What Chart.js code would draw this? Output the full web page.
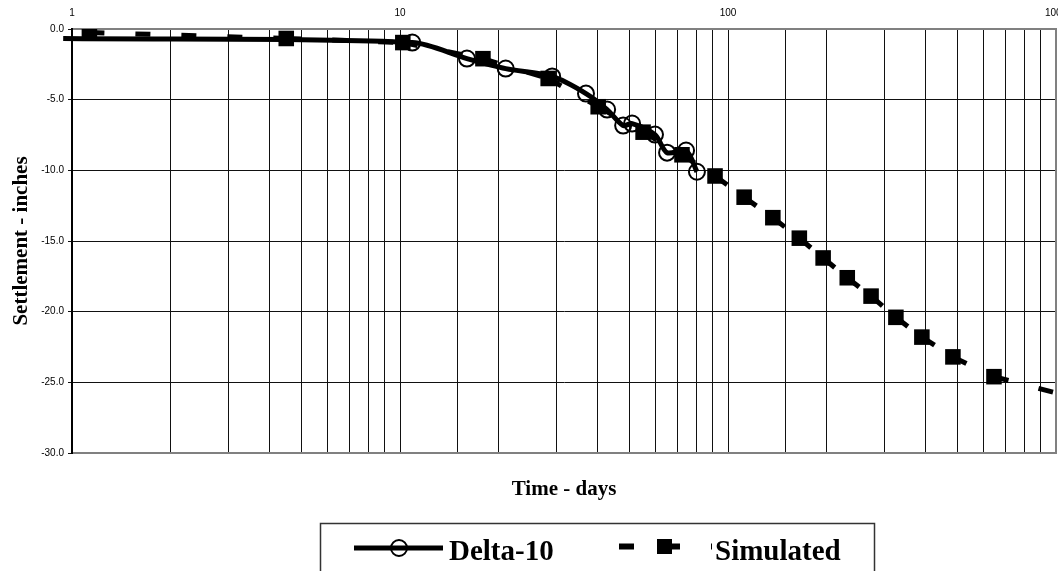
<!DOCTYPE html>
<html>
<head>
<meta charset="utf-8">
<script src="https://cdn.jsdelivr.net/npm/chart.js@4"></script>
<style>
  body { margin: 0; background: #fff; }
  canvas { display: block; }
</style>
</head>
<body>
<canvas id="settleChart" width="1058" height="571"></canvas>
<script>
// values (time in days, settlement in inches)
var delta10Days = [0.94, 10.9, 16.0, 21.0, 29.1, 36.9, 42.8, 47.9, 51.0, 59.9, 65.2, 74.5, 80.4];
var delta10Settle = [-0.68, -0.96, -2.09, -2.8, -3.36, -4.57, -5.7, -6.83, -6.69, -7.47, -8.75, -8.6, -10.1];

var simDays = [1.13, 4.5, 10.2, 17.9, 28.3, 40.2, 55.1, 72.4, 91.3, 112, 137, 165, 195, 231, 273, 325, 390, 485, 647, 1100];
var simSettle = [-0.25, -0.67, -0.96, -2.1, -3.5, -5.5, -7.3, -8.9, -10.4, -11.9, -13.35, -14.8, -16.2, -17.6, -18.9, -20.4, -21.8, -23.2, -24.6, -26.0];

var xTickLabels = [1, 10, 100, 1000];
var yTickValues = [0, -5, -10, -15, -20, -25, -30];

var serif = "'Liberation Serif', 'Times New Roman', serif";
var sans = "'Liberation Sans', Arial, sans-serif";

function toPoints(xs, ys) {
  return xs.map(function (x, i) { return { x: x, y: ys[i] }; });
}

// legend drawn in a box below the plot, like the spreadsheet one
var boxLegend = {
  id: "boxLegend",
  afterDraw: function (chart) {
    var c = chart.ctx;
    var ds = chart.data.datasets;
    c.save();
    c.strokeStyle = "#333";
    c.lineWidth = 1.5;
    c.strokeRect(320.5, 523.5, 554, 70);

    // Delta-10 sample
    c.strokeStyle = "#000";
    c.lineWidth = 5;
    c.beginPath();
    c.moveTo(354, 548);
    c.lineTo(443, 548);
    c.stroke();
    c.lineWidth = 2;
    c.beginPath();
    c.arc(399, 548, 8, 0, Math.PI * 2);
    c.stroke();

    // Simulated sample
    c.lineWidth = 6;
    c.setLineDash([15, 31]);
    c.beginPath();
    c.moveTo(619, 546.5);
    c.lineTo(712, 546.5);
    c.stroke();
    c.setLineDash([]);
    c.fillStyle = "#000";
    c.fillRect(657, 539, 15, 15);

    c.font = "bold 29px " + serif;
    c.textBaseline = "alphabetic";
    c.fillText(ds[0].label, 449, 560);
    c.fillText(ds[1].label, 715, 560);
    c.restore();
  }
};

var ctx = document.getElementById("settleChart").getContext("2d");

var myChart = new Chart(ctx, {
  type: "line",
  data: {
    datasets: [
      {
        label: "Delta-10",
        data: toPoints(delta10Days, delta10Settle),
        borderColor: "#000",
        borderWidth: 5,
        tension: 0.3,
        fill: false,
        clip: false,
        pointStyle: "circle",
        pointRadius: delta10Days.map(function (d, i) { return i === 0 ? 0 : 8; }),
        pointBorderWidth: 2,
        pointBorderColor: "#000",
        pointBackgroundColor: "rgba(0,0,0,0)",
      },
      {
        label: "Simulated",
        data: toPoints(simDays, simSettle),
        borderColor: "#000",
        borderWidth: 5,
        borderDash: [15, 31],
        borderCapStyle: "butt",
        // each segment gets its own dash start, like Excel does
        segment: {
          borderDashOffset: function (s) { return s.p0DataIndex * 0.000001; },
        },
        tension: 0,
        fill: false,
        pointStyle: "rect",
        pointRadius: 11,
        pointBorderWidth: 0,
        pointBackgroundColor: "#000",
      },
    ],
  },
  options: {
    responsive: false,
    animation: false,
    layout: { padding: 0, autoPadding: false },
    plugins: {
      legend: { display: false },
      tooltip: { enabled: false },
    },
    scales: {
      x: {
        type: "logarithmic",
        position: "top",
        min: 1,
        max: 1000,
        afterFit: function (s) {
          s.height = 29;
          s.paddingLeft = 0;
          s.paddingRight = 0;
        },
        border: { color: "#808080", width: 2 },
        grid: { color: "#111", lineWidth: 1, drawTicks: false },
        ticks: {
          autoSkip: false,
          maxRotation: 0,
          padding: 10,
          color: "#000",
          font: { family: sans, size: 10 },
          callback: function (v) {
            return xTickLabels.indexOf(v) >= 0 ? String(v) : "";
          },
        },
      },
      x2: {
        type: "logarithmic",
        position: "bottom",
        min: 1,
        max: 1000,
        afterFit: function (s) {
          s.height = 118;
          s.paddingLeft = 0;
          s.paddingRight = 0;
        },
        border: { color: "#808080", width: 2 },
        grid: { drawOnChartArea: false, drawTicks: false },
        ticks: { display: false },
        title: {
          display: true,
          text: "Time - days",
          color: "#000",
          font: { family: serif, size: 21, weight: "bold" },
          padding: { top: 0, bottom: 69 },
        },
      },
      y: {
        min: -30,
        max: 0,
        afterFit: function (s) { s.width = 72; },
        afterBuildTicks: function (s) {
          s.ticks = yTickValues.map(function (v) { return { value: v }; });
        },
        border: { color: "#000", width: 2 },
        grid: { color: "#111", lineWidth: 1, tickLength: 4 },
        ticks: {
          padding: 4,
          color: "#000",
          font: { family: sans, size: 10 },
          callback: function (v) { return v.toFixed(1); },
        },
        title: {
          display: true,
          text: "Settlement - inches",
          color: "#000",
          font: { family: serif, size: 21, weight: "bold" },
          padding: { top: 9, bottom: 0 },
        },
      },
      y2: {
        position: "right",
        min: -30,
        max: 0,
        afterFit: function (s) { s.width = 2; s.paddingTop = 0; s.paddingBottom = 0; },
        border: { color: "#808080", width: 2 },
        grid: { drawOnChartArea: false, drawTicks: false },
        ticks: { display: false },
      },
    },
  },
  plugins: [boxLegend],
});
</script>
</body>
</html>
